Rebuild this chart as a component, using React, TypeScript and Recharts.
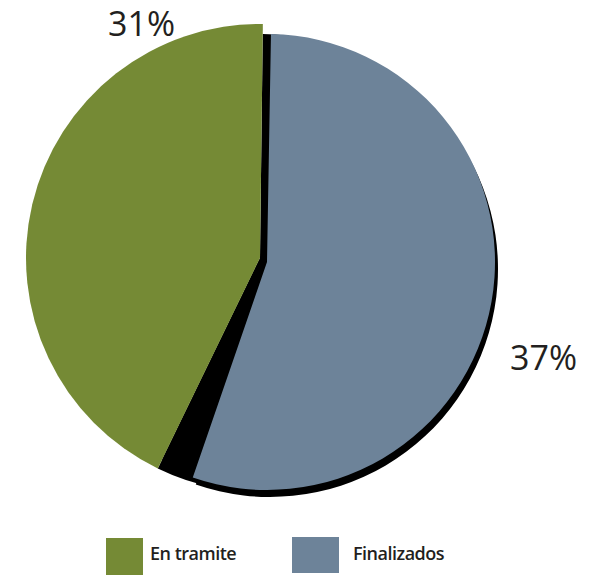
import React from 'react';
import { PieChart, Pie, Cell } from 'recharts';

// Categories and values as drawn (share of the circle, %)
const categories = ['En tramite', 'Finalizados'];
const sliceShares = [43, 55];
const gapShare = 4;
const percentLabels = ['31%', '37%'];
const colors = ['#758a35', '#6d8399'];
const shadowColor = '#000000';

const greenData = [
  { name: categories[0], value: sliceShares[0] },
  { name: 'rest', value: 100 - sliceShares[0] },
];
const blueData = [
  { name: 'rest', value: 100 - sliceShares[1] },
  { name: categories[1], value: sliceShares[1] },
];
const backData = [
  { name: 'rest', value: sliceShares[0] },
  { name: 'back', value: 100 - sliceShares[0] },
];
const gapData = [
  { name: 'rest', value: sliceShares[0] },
  { name: 'gap', value: gapShare },
  { name: 'rest2', value: 100 - sliceShares[0] - gapShare },
];

const fontFam = '"Open Sans", "Noto Sans", sans-serif';

export default function App() {
  return (
    <div style={{ position: 'absolute', left: 0, top: 0, width: 600, height: 575, background: '#fff' }}>
      <PieChart width={600} height={575} margin={{ top: 0, right: 0, bottom: 0, left: 0 }}>
        {/* drop shadow of the blue slice */}
        <Pie data={blueData} dataKey="value" cx={270} cy={269} outerRadius={228} startAngle={89} endAngle={449}
          stroke="none" isAnimationActive={false} legendType="none" label={false}>
          {blueData.map((d, i) => <Cell key={i} fill={i === 1 ? shadowColor : 'transparent'} />)}
        </Pie>
        <Pie data={backData} dataKey="value" cx={260} cy={258} outerRadius={224} startAngle={89.3} endAngle={449.3}
          stroke="none" isAnimationActive={false} legendType="none" label={false}>
          {backData.map((d, i) => <Cell key={i} fill={i === 1 ? shadowColor : 'transparent'} />)}
        </Pie>
        <Pie data={gapData} dataKey="value" cx={260} cy={258} outerRadius={234} startAngle={89.3} endAngle={449.3}
          stroke="none" isAnimationActive={false} legendType="none" label={false}>
          {gapData.map((d, i) => <Cell key={i} fill={i === 1 ? shadowColor : 'transparent'} />)}
        </Pie>
        <Pie data={greenData} dataKey="value" cx={260} cy={258} outerRadius={234} startAngle={89.3} endAngle={449.3}
          stroke="none" isAnimationActive={false} legendType="none" label={false}>
          {greenData.map((d, i) => <Cell key={i} fill={i === 0 ? colors[0] : 'transparent'} />)}
        </Pie>
        <Pie data={blueData} dataKey="value" cx={267} cy={262} outerRadius={228} startAngle={89} endAngle={449}
          stroke="none" isAnimationActive={false} legendType="none" label={false}>
          {blueData.map((d, i) => <Cell key={i} fill={i === 1 ? colors[1] : 'transparent'} />)}
        </Pie>
        <text x={108} y={36} fontFamily={fontFam} fontSize={34} fill="#231f20">{percentLabels[0]}</text>
        <text x={510} y={370} fontFamily={fontFam} fontSize={34} fill="#231f20">{percentLabels[1]}</text>
      </PieChart>
      <div style={{ position: 'absolute', left: 106, top: 538, width: 37, height: 37, background: colors[0] }} />
      <div style={{ position: 'absolute', left: 150, top: 541, fontFamily: fontFam, fontSize: 18, fontWeight: 600, color: '#231f20', letterSpacing: -0.5 }}>
        {categories[0]}
      </div>
      <div style={{ position: 'absolute', left: 292, top: 537, width: 47, height: 36, background: colors[1] }} />
      <div style={{ position: 'absolute', left: 353, top: 541, fontFamily: fontFam, fontSize: 18, fontWeight: 600, color: '#231f20', letterSpacing: -0.5 }}>
        {categories[1]}
      </div>
    </div>
  );
}
